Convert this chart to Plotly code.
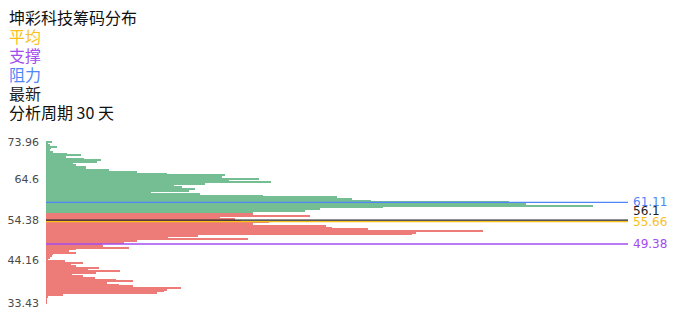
import numpy as np
import plotly.graph_objects as go

# ---- data ----
title = "坤彩科技筹码分布"
price_min, price_max = 33.43, 73.96
# chip volume per price level, top (73.96) -> bottom (33.43)
chips_top_down = [
    5.7, 2.3, 4, 10.7, 4.7, 4, 6.7, 20.7, 34.7, 20,
    38, 54.7, 50.7, 27.3, 29.7, 39.7, 39.7, 63.3, 91, 120.8,
    179, 176, 212.6, 182.6, 224.7, 159, 128, 136, 148.6, 142.6,
    105.4, 154, 217, 291, 305.7, 324.7, 463.3, 480, 547, 337,
    274, 259, 207,
    206.5, 263.5, 173.6, 188.6, 195, 222.6, 207, 279.7, 286, 322,
    437, 370, 366, 151.7, 122.3, 202, 90.7, 78, 56, 56.7,
    83.3, 30, 23.3, 30, 6.7, 5.7, 4, 1.7, 19, 36.7,
    24.7, 30, 53, 41.7, 74, 49.7, 25.7, 36.7, 49, 69.7,
    87.3, 60.7, 73, 86.7, 134.7, 121, 118, 110.7, 17.3, 1.3,
    0.7, 0.7, 0.3, 0.3,
]
n_green = 43  # levels above current price zone (profit side)
tick_labels = [33.43, 44.16, 54.38, 64.6, 73.96]

avg_price = 55.66
support = 49.38
resistance = 61.11
latest = 56.1
period_days = 30

# ---- derived ----
n = len(chips_top_down)
prices = np.linspace(price_max, price_min, n)
step = (price_max - price_min) / (n - 1)
colors = ["#2e9e5e"] * n_green + ["#e53935"] * (n - n_green)

W, H = 696, 320
ml, mr, mt, mb = 46, 68, 140, 15
pw, ph = W - ml - mr, H - mt - mb

def px_x(x):
    return (x - ml) / pw

def px_y(y):
    return (H - mb - y) / ph

xmax = 582

fig = go.Figure()
fig.add_trace(go.Bar(
    x=chips_top_down, y=prices, orientation="h",
    marker=dict(color=colors, line=dict(width=0)),
    opacity=0.66, width=step * 0.6, showlegend=False, hoverinfo="x+y",
))

line_defs = [
    (resistance, "#4f86f7", 0),
    (latest, "#222222", 9),
    (avg_price, "#f9c019", 0),
    (support, "#a24cf0", 0),
]
for val, col, ysh in line_defs:
    fig.add_trace(go.Scatter(
        x=[0, xmax], y=[val, val], yaxis="y2", mode="lines",
        line=dict(color=col, width=1.3), showlegend=False, hoverinfo="y",
    ))
    fig.add_annotation(
        x=1, xref="paper", y=val, yref="y2", text=f"{val:g}",
        showarrow=False, xanchor="left", yanchor="middle", xshift=4, yshift=ysh,
        borderpad=0,
        font=dict(family="DejaVu Sans", size=12, color=col),
    )

head = [
    (title, "#111111", 18),
    ("平均", "#f9c019", 37),
    ("支撑", "#a24cf0", 56),
    ("阻力", "#4f86f7", 75),
    ("最新", "#222222", 94),
    (f"分析周期 {period_days} 天", "#111111", 113),
]
for txt, col, yp in head:
    fig.add_annotation(
        x=px_x(8), y=px_y(yp - 0.7), xref="paper", yref="paper", text=txt,
        showarrow=False, xanchor="left", yanchor="middle", borderpad=0,
        font=dict(family="Noto Sans CJK SC", size=16, color=col),
    )

y1_lo = price_min - step / 2 - 0.9 * 0.2517
y1_hi = price_max + step / 2 + 0.9 * 0.2517
fig.update_layout(
    width=W, height=H, margin=dict(l=ml, r=mr, t=mt, b=mb, autoexpand=False),
    paper_bgcolor="white", plot_bgcolor="white",
    bargap=0,
    xaxis=dict(range=[0, xmax], visible=False, fixedrange=True, automargin=False),
    yaxis=dict(
        range=[y1_lo, y1_hi], tickvals=tick_labels,
        ticktext=[f"{v:g}" for v in tick_labels],
        showgrid=False, zeroline=False, showline=False, ticks="",
        tickfont=dict(family="DejaVu Sans", size=11, color="#4a4a4a"),
        ticklabelstandoff=6, automargin=False,
    ),
    yaxis2=dict(overlaying="y", range=[32.22, 78.63], visible=False, automargin=False),
    showlegend=False,
)

fig.write_html("out.html")
